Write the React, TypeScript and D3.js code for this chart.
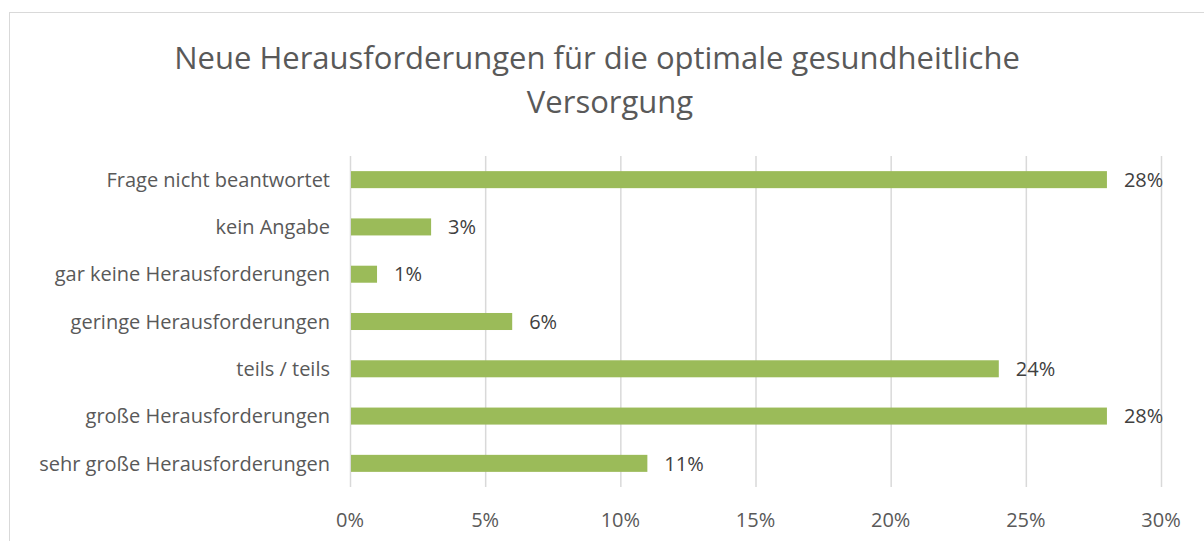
import React, { useEffect, useRef } from "react";
import * as d3 from "d3";

const categories = [
  "Frage nicht beantwortet",
  "kein Angabe",
  "gar keine Herausforderungen",
  "geringe Herausforderungen",
  "teils / teils",
  "große Herausforderungen",
  "sehr große Herausforderungen",
];
const values = [28, 3, 1, 6, 24, 28, 11];
const xTicks = [0, 5, 10, 15, 20, 25, 30];
const titleLines = [
  "Neue Herausforderungen für die optimale gesundheitliche",
  "Versorgung",
];

const App = () => {
  const svgRef = useRef<SVGSVGElement>(null);

  useEffect(() => {
    const width = 1204;
    const height = 541;
    const margin = { top: 156, left: 350, right: 43, bottom: 54 };
    const font = "'Open Sans', sans-serif";

    const svg = d3.select(svgRef.current).attr("width", width).attr("height", height);
    svg.selectAll("*").remove();

    // chart border
    svg
      .append("rect")
      .attr("x", 9.5)
      .attr("y", 12.5)
      .attr("width", width)
      .attr("height", height)
      .attr("fill", "#fff")
      .attr("stroke", "#d9d9d9");

    const x = d3
      .scaleLinear()
      .domain([0, 30])
      .range([margin.left, width - margin.right]);
    const y = d3
      .scaleBand()
      .domain(categories)
      .range([margin.top, height - margin.bottom])
      .paddingInner(0.64)
      .paddingOuter(0.32);

    // title
    svg
      .append("g")
      .selectAll("text")
      .data(titleLines)
      .join("text")
      .attr("x", (_, i) => (i === 0 ? 597 : 610))
      .attr("y", (_, i) => 69 + i * 44)
      .attr("text-anchor", "middle")
      .style("font-family", font)
      .style("font-size", "31px")
      .attr("fill", "#595959")
      .text((d) => d);

    // gridlines
    svg
      .append("g")
      .selectAll("line")
      .data(xTicks)
      .join("line")
      .attr("x1", (d) => x(d) + 0.5)
      .attr("x2", (d) => x(d) + 0.5)
      .attr("y1", margin.top)
      .attr("y2", height - margin.bottom)
      .attr("stroke", "#d9d9d9")
      .attr("stroke-width", 1.5);

    // x tick labels
    svg
      .append("g")
      .selectAll("text")
      .data(xTicks)
      .join("text")
      .attr("x", (d) => x(d))
      .attr("y", 527)
      .attr("text-anchor", "middle")
      .style("font-family", font)
      .style("font-size", "20px")
      .attr("fill", "#595959")
      .text((d) => `${d}%`);

    // bars
    const data = categories.map((c, i) => ({ c, v: values[i] }));
    svg
      .append("g")
      .selectAll("rect")
      .data(data)
      .join("rect")
      .attr("x", x(0) + 1)
      .attr("y", (d) => y(d.c)!)
      .attr("width", (d) => x(d.v) - x(0) - 1)
      .attr("height", y.bandwidth())
      .attr("fill", "#9bbb59");

    // value labels
    svg
      .append("g")
      .selectAll("text")
      .data(data)
      .join("text")
      .attr("x", (d) => x(d.v) + 17)
      .attr("y", (d) => y(d.c)! + y.bandwidth() / 2)
      .attr("dy", "0.36em")
      .style("font-family", font)
      .style("font-size", "20px")
      .attr("fill", "#404040")
      .text((d) => `${d.v}%`);

    // category labels
    svg
      .append("g")
      .selectAll("text")
      .data(categories)
      .join("text")
      .attr("x", margin.left - 20)
      .attr("y", (d) => y(d)! + y.bandwidth() / 2)
      .attr("dy", "0.36em")
      .attr("text-anchor", "end")
      .style("font-family", font)
      .style("font-size", "20px")
      .attr("fill", "#595959")
      .text((d) => d);
  }, []);

  return <svg ref={svgRef} style={{ display: "block", position: "absolute", left: 0, top: 0 }} />;
};

export default App;
